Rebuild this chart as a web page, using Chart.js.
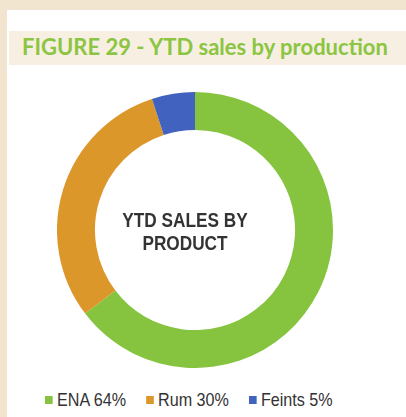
<!DOCTYPE html>
<html>
<head>
<meta charset="utf-8">
<script src="https://cdn.jsdelivr.net/npm/chart.js@4"></script>
<style>
  html, body { margin: 0; padding: 0; }
  body { width: 406px; height: 417px; background: #f2e5cf; position: relative; overflow: hidden; }
  #panel { position: absolute; left: 7px; top: 10px; width: 399px; height: 407px; background: #ffffff; }
  #titleband { position: absolute; left: 9px; top: 31px; width: 397px; height: 34px; background: #f7efe2; }
  #title { position: absolute; left: 22px; top: 30px; height: 34px; line-height: 34px; white-space: nowrap;
           font-family: Lato, "Open Sans", sans-serif; font-weight: 700; font-size: 22px; color: #8bc541; }
  #chartbox { position: absolute; left: 57px; top: 92px; width: 276px; height: 276px; }
  #center { position: absolute; left: 85px; top: 208px; width: 200px; text-align: center; line-height: 23px;
            font-family: "Liberation Sans", Arial, sans-serif; font-weight: 700;
            font-size: 21px; color: #333333; transform: scaleX(0.82); transform-origin: 100px 50%; }
  #legend { position: absolute; left: 45px; top: 389px; height: 22px; display: flex; align-items: center;
            font-family: "Liberation Sans", Arial, sans-serif; font-size: 19px; color: #333333;
            transform: scaleX(0.85); transform-origin: 0 50%; }
  .item { display: flex; align-items: center; margin-right: 23.5px; white-space: nowrap; }
  .box { width: 9.4px; height: 8px; margin-right: 4.7px; }
</style>
</head>
<body>
<div id="panel"></div>
<div id="titleband"></div>
<div id="title">FIGURE 29 - YTD sales by production</div>
<div id="chartbox"><canvas id="c" width="276" height="276"></canvas></div>
<div id="center">YTD SALES BY<br>PRODUCT</div>
<div id="legend"></div>
<script>
const categories = ['ENA', 'Rum', 'Feints'];
const shares = [64, 30, 5];
const colours = ['#86c440', '#dc972b', '#4262c0'];

const htmlLegend = {
  id: 'htmlLegend',
  afterUpdate(chart) {
    const el = document.getElementById('legend');
    el.innerHTML = '';
    const items = chart.options.plugins.legend.labels.generateLabels(chart);
    items.forEach(it => {
      const d = document.createElement('div');
      d.className = 'item';
      const b = document.createElement('span');
      b.className = 'box';
      b.style.background = it.fillStyle;
      const t = document.createElement('span');
      t.textContent = it.text + ' ' + shares[it.index] + '%';
      d.appendChild(b); d.appendChild(t);
      el.appendChild(d);
    });
  }
};

new Chart(document.getElementById('c'), {
  type: 'doughnut',
  data: {
    labels: categories,
    datasets: [{ data: shares, backgroundColor: colours, borderWidth: 0, hoverOffset: 0 }]
  },
  options: {
    responsive: false,
    maintainAspectRatio: false,
    animation: false,
    cutout: '72.5%',
    layout: { padding: 0 },
    plugins: { legend: { display: false }, tooltip: { enabled: false } }
  },
  plugins: [htmlLegend]
});
</script>
</body>
</html>
